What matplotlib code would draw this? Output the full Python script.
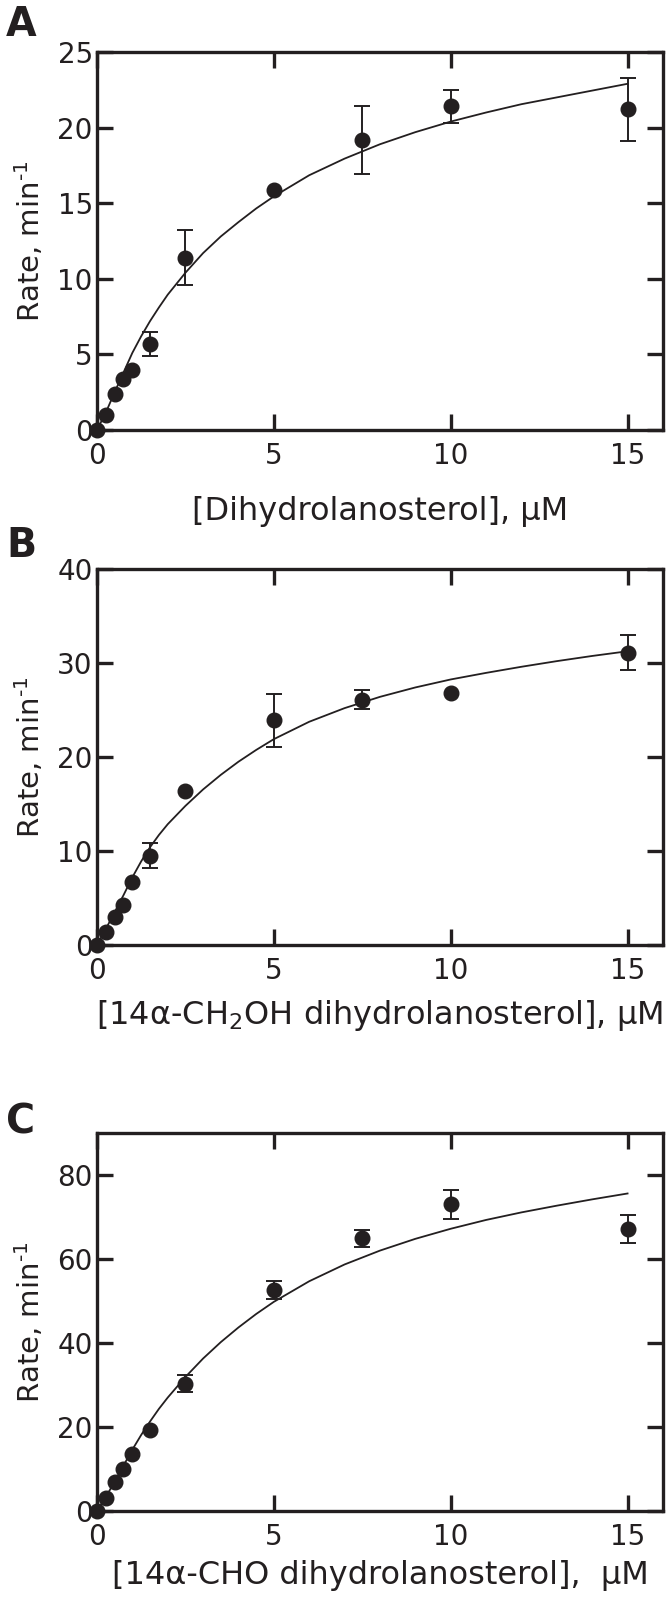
import matplotlib
matplotlib.use('Agg')
import matplotlib.pyplot as plt
import numpy as np

plt.rcParams['font.family'] = ['DejaVu Sans']
plt.rcParams['mathtext.default'] = 'regular'

ink = '#231f20'

# substrate concentrations (uM)
conc = [0, 0.25, 0.5, 0.75, 1.0, 1.5, 2.5, 5, 7.5, 10, 15]

# A: dihydrolanosterol
rate_a = [0, 1.0, 2.35, 3.4, 4.0, 5.7, 11.4, 15.85, 19.2, 21.4, 21.2]
err_a = [np.nan, np.nan, np.nan, np.nan, np.nan, 0.8, 1.8, np.nan, 2.25, 1.1, 2.1]

# B: 14a-CH2OH dihydrolanosterol
rate_b = [0, 1.4, 3.0, 4.3, 6.7, 9.5, 16.35, 23.9, 26.1, 26.8, 31.1]
err_b = [np.nan, np.nan, np.nan, np.nan, np.nan, 1.3, np.nan, 2.8, 1.0, np.nan, 1.85]

# C: 14a-CHO dihydrolanosterol
rate_c = [0, 3.2, 6.9, 10.1, 13.5, 19.3, 30.3, 52.6, 64.9, 73.0, 67.1]
err_c = [np.nan, np.nan, np.nan, np.nan, np.nan, np.nan, 2.0, 2.2, 2.0, 3.4, 3.4]

# fitted curves
fit_x = [0, 0.25, 0.5, 0.75, 1, 1.25, 1.5, 1.75, 2, 2.5, 3, 3.5, 4, 4.5, 5,
         6, 7, 8, 9, 10, 11, 12, 13, 14, 15]
fit_a = [0, 1.15, 2.5, 3.8, 5.1, 6.2, 7.2, 8.1, 8.95, 10.4, 11.7, 12.8, 13.75, 14.65, 15.45,
         16.85, 17.95, 18.9, 19.7, 20.4, 21.0, 21.55, 22.0, 22.45, 22.9]
fit_b = [0, 1.7, 3.5, 5.3, 7.2, 8.9, 10.4, 11.7, 12.85, 14.8, 16.55, 18.1, 19.5, 20.75, 21.9,
         23.75, 25.2, 26.4, 27.4, 28.25, 28.95, 29.6, 30.2, 30.75, 31.25]
fit_c = [0, 3.3, 7.0, 10.8, 14.6, 18.1, 21.3, 24.3, 27.0, 31.9, 36.3, 40.2, 43.7, 46.9, 49.8,
         54.7, 58.7, 62.0, 64.8, 67.2, 69.3, 71.1, 72.7, 74.2, 75.6]

xticks = [0, 5, 10, 15]


def panel(ax, rate, err, fit, ylim, yticks, xlabel, xlab_y):
    x = np.array(conc)
    y = np.array(rate)
    e = np.array(err)
    sel = ~np.isnan(e)
    ax.plot(fit_x, fit, color=ink, lw=1.3, zorder=2, solid_joinstyle='round')
    ax.errorbar(x[sel], y[sel], yerr=e[sel], fmt='none', ecolor=ink,
                elinewidth=1.4, capsize=6, capthick=1.4, zorder=2, clip_on=False)
    ax.plot(x, y, 'o', ms=10.5, color=ink, zorder=3, clip_on=False)
    ax.set_xlim(0, 16)
    ax.set_ylim(*ylim)
    ax.set_xticks(xticks)
    ax.set_yticks(yticks)
    for s in ax.spines.values():
        s.set_linewidth(2.4)
        s.set_color(ink)
    ax.tick_params(direction='in', length=11.5, width=2.4, color=ink,
                   top=True, right=True, labelsize=20, labelcolor=ink)
    ax.tick_params(axis='y', pad=3)
    ax.tick_params(axis='x', pad=8.5)
    ax.set_ylabel('Rate, min$^{\\text{-}1}$', fontsize=21, color=ink)
    ax.yaxis.set_label_coords(-0.09, 0.5)
    ax.set_xlabel(xlabel, fontsize=23, color=ink)
    ax.xaxis.set_label_coords(0.5, xlab_y)


fig = plt.figure(figsize=(6.66, 16.11), dpi=100)
ax1 = fig.add_axes([0.1456, 0.7331, 0.8498, 0.2346])
ax2 = fig.add_axes([0.1456, 0.4134, 0.8498, 0.2334])
ax3 = fig.add_axes([0.1456, 0.0621, 0.8498, 0.2346])

panel(ax1, rate_a, err_a, fit_a, (0, 25), [0, 5, 10, 15, 20, 25],
      '[Dihydrolanosterol], µM', -0.174)
panel(ax2, rate_b, err_b, fit_b, (0, 40), [0, 10, 20, 30, 40],
      '[14α-CH$_2$OH dihydrolanosterol], µM', -0.140)
panel(ax3, rate_c, err_c, fit_c, (0, 90), [0, 20, 40, 60, 80],
      '[14α-CHO dihydrolanosterol],  µM', -0.131)

for lab, yy in [('A', 0.97765), ('B', 0.65425), ('C', 0.29671)]:
    fig.text(0.009, yy, lab, fontsize=28.5, fontweight='bold', color=ink,
             va='baseline', ha='left')

fig.savefig('out.png', dpi=100)
